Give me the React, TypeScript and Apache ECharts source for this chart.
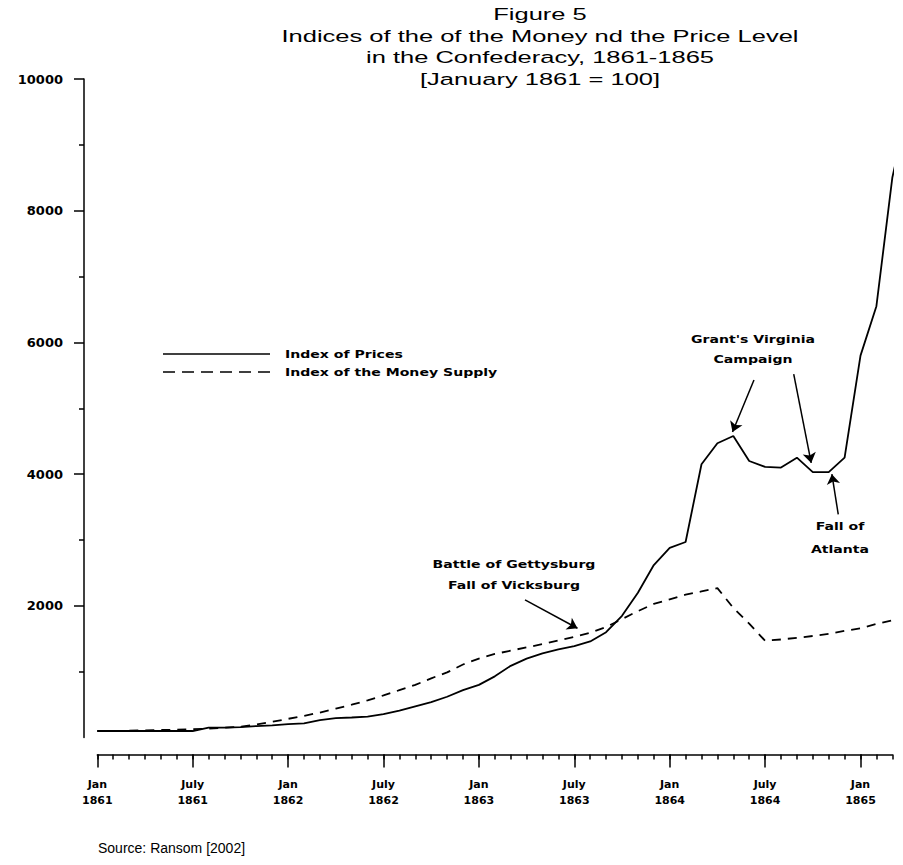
import React, { useEffect, useRef } from "react";
import * as echarts from "echarts";

// Months counted from January 1861 (0 = Jan 1861)
const months = [
  0, 1, 2, 3, 4, 5, 6, 7, 8, 9, 10, 11, 12, 13, 14, 15, 16, 17, 18, 19, 20,
  21, 22, 23, 24, 25, 26, 27, 28, 29, 30, 31, 32, 33, 34, 35, 36, 37, 38, 39,
  40, 41, 42, 43, 44, 45, 46, 47, 48, 49, 50, 50.6,
];

// Index of Prices (January 1861 = 100)
const priceIndex = [
  100, 100, 100, 100, 100, 100, 100, 150, 150, 160, 175, 185, 205, 215, 265,
  295, 305, 320, 355, 410, 475, 540, 620, 720, 800, 930, 1090, 1200, 1280, 1340,
  1390, 1460, 1600, 1850, 2200, 2620, 2880, 2970, 4150, 4470, 4580, 4200, 4110,
  4100, 4250, 4030, 4030, 4250, 5800, 6550, 8500, 9150,
];

// Index of the Money Supply (January 1861 = 100)
const moneyIndex = [
  100, 100, 105, 110, 115, 120, 130, 135, 150, 165, 200, 240, 285, 330, 380,
  440, 500, 565, 640, 720, 800, 900, 990, 1110, 1200, 1270, 1320, 1370, 1420,
  1475, 1530, 1590, 1680, 1800, 1920, 2030, 2100, 2170, 2220, 2270, 1970, 1730,
  1470, 1490, 1515, 1543, 1575, 1620, 1660, 1725, 1780, 1805,
];

const xMajorTicks = [0, 6, 12, 18, 24, 30, 36, 42, 48];
const xTickLabels = [
  "Jan\n1861", "July\n1861", "Jan\n1862", "July\n1862", "Jan\n1863",
  "July\n1863", "Jan\n1864", "July\n1864", "Jan\n1865",
];
const yTicks = [2000, 4000, 6000, 8000, 10000];

const titleLines = [
  "Figure 5",
  "Indices of the of the Money nd the Price Level",
  "in the Confederacy, 1861-1865",
  "[January 1861 = 100]",
];
const seriesNames = ["Index of Prices", "Index of the Money Supply"];
const sourceText = "Source: Ransom [2002]";

// Annotation arrows, in data units: [fromMonth, fromValue, toMonth, toValue]
const arrows = [
  [26.9, 2090, 30.2, 1660],
  [41.3, 5430, 39.95, 4640],
  [43.8, 5520, 44.9, 4170],
  [46.6, 3390, 46.2, 4000],
];

const annotations = [
  { lines: ["Battle of Gettysburg", "Fall of Vicksburg"], x: 514, y: 564, gap: 21 },
  { lines: ["Grant's Virginia", "Campaign"], x: 753, y: 339, gap: 20 },
  { lines: ["Fall of", "Atlanta"], x: 840, y: 526, gap: 23 },
];

export default function App() {
  const ref = useRef<HTMLDivElement>(null);
  useEffect(() => {
    if (!ref.current) return;
    const chart = echarts.init(ref.current, null, { renderer: "svg" });
    const black = "#000";
    const labelFont = "DejaVu Sans";

    const graphics: any[] = [];
    titleLines.forEach((t, i) => {
      graphics.push({
        type: "text",
        x: 540,
        y: 14 + i * 21.7,
        scaleX: 1.5,
        style: {
          text: t,
          fill: black,
          font: '17px "Liberation Sans", Arial, sans-serif',
          textAlign: "center",
          textVerticalAlign: "middle",
          align: "center",
          verticalAlign: "middle",
        },
      });
    });
    // legend
    graphics.push({
      type: "line",
      shape: { x1: 163, y1: 354, x2: 270, y2: 354 },
      style: { stroke: black, lineWidth: 1.6 },
    });
    graphics.push({
      type: "line",
      shape: { x1: 163, y1: 372, x2: 270, y2: 372 },
      style: { stroke: black, lineWidth: 1.6, lineDash: [12, 7] },
    });
    seriesNames.forEach((n, i) => {
      graphics.push({
        type: "text",
        x: 285,
        y: 354 + i * 18,
        scaleX: 1.28,
        style: {
          text: n,
          fill: black,
          font: `bold 11px "${labelFont}", sans-serif`,
          textAlign: "left",
          textVerticalAlign: "middle",
          align: "left",
          verticalAlign: "middle",
        },
      });
    });
    annotations.forEach((a) => {
      a.lines.forEach((l, i) => {
        graphics.push({
          type: "text",
          x: a.x,
          y: a.y + i * a.gap,
          scaleX: 1.28,
          style: {
            text: l,
            fill: black,
            font: `bold 11px "${labelFont}", sans-serif`,
            textAlign: "center",
            textVerticalAlign: "middle",
            align: "center",
            verticalAlign: "middle",
          },
        });
      });
    });
    graphics.push({
      type: "text",
      x: 98,
      y: 848,
      style: {
        text: sourceText,
        fill: black,
        font: '14px "Liberation Sans", Arial, sans-serif',
        textAlign: "left",
        textVerticalAlign: "middle",
        align: "left",
        verticalAlign: "middle",
      },
    });

    const option: any = {
      animation: false,
      backgroundColor: "#fff",
      grid: { left: 97.3, right: 10.7, top: 79, bottom: 127.4, containLabel: false },
      xAxis: [
        {
          type: "value",
          position: "bottom",
          min: 0,
          max: 50,
          offset: 17,
          axisLine: { show: true, onZero: false, lineStyle: { color: black, width: 1.5 } },
          axisTick: {
            show: true,
            customValues: xMajorTicks,
            length: 13,
            lineStyle: { color: black, width: 1.5 },
          },
          axisLabel: {
            customValues: xMajorTicks,
            formatter: (v: number) => xTickLabels[Math.round(v / 6)] ?? "",
            margin: 22,
            color: black,
            fontFamily: labelFont,
            fontWeight: "bold",
            fontSize: 11,
            lineHeight: 16,
          },
          splitLine: { show: false },
        },
        {
          type: "value",
          position: "bottom",
          min: 0,
          max: 50,
          interval: 1,
          offset: 17,
          axisLine: { show: false, onZero: false },
          axisTick: { show: true, length: 5, lineStyle: { color: black, width: 1.5 } },
          axisLabel: { show: false },
          splitLine: { show: false },
        },
      ],
      yAxis: {
        type: "value",
        position: "left",
        min: 0,
        max: 10000,
        interval: 2000,
        offset: 13.3,
        axisLine: { show: true, onZero: false, lineStyle: { color: black, width: 1.5 } },
        axisTick: {
          show: true,
          customValues: yTicks,
          length: 10,
          lineStyle: { color: black, width: 1.5 },
        },
        minorTick: { show: true, splitNumber: 2, length: 5, lineStyle: { color: black, width: 1.5 } },
        axisLabel: {
          customValues: yTicks,
          formatter: (v: number) => String(v),
          margin: 21,
          color: black,
          fontFamily: labelFont,
          fontWeight: "bold",
          fontSize: 13,
        },
        splitLine: { show: false },
        minorSplitLine: { show: false },
      },
      series: [
        {
          name: seriesNames[0],
          type: "line",
          xAxisIndex: 0,
          data: months.map((m, i) => [m, priceIndex[i]]),
          showSymbol: false,
          symbol: "none",
          clip: false,
          lineStyle: { color: black, width: 1.8, type: "solid" },
          markLine: {
            silent: true,
            symbol: ["none", "arrow"],
            symbolSize: 10,
            label: { show: false },
            lineStyle: { color: black, width: 1.5, type: "solid" },
            data: arrows.map((a) => [
              { coord: [a[0], a[1]] },
              { coord: [a[2], a[3]] },
            ]),
          },
        },
        {
          name: seriesNames[1],
          type: "line",
          xAxisIndex: 0,
          data: months.map((m, i) => [m, moneyIndex[i]]),
          showSymbol: false,
          symbol: "none",
          clip: false,
          lineStyle: { color: black, width: 1.8, type: [9, 7] },
        },
      ],
      graphic: graphics,
    };
    chart.setOption(option);
    return () => chart.dispose();
  }, []);
  return (
    <div
      ref={ref}
      style={{ position: "absolute", left: 0, top: 0, width: 903, height: 865 }}
    />
  );
}
